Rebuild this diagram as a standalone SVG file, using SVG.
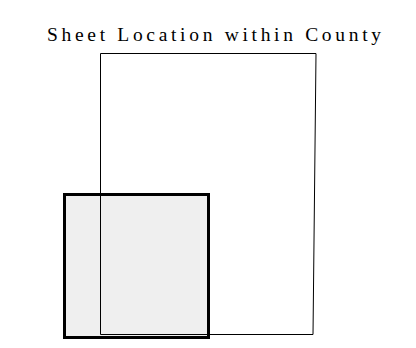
<svg xmlns="http://www.w3.org/2000/svg" width="416" height="348" viewBox="0 0 416 348">
<style>
.title{font-family:"Liberation Serif","Times New Roman",serif;font-size:19.5px;fill:#000}
.county{fill:none;stroke:#000;stroke-width:1}
.sheet{stroke:#000;stroke-width:3}
</style>
<rect width="416" height="348" fill="#fff"/>
<text class="title" x="47" y="40.5" textLength="334" lengthAdjust="spacing">Sheet Location within County</text>
<g id="sheet-fill"><rect x="64.5" y="194.5" width="144" height="143" fill="#efefef" stroke="none"/></g>
<g id="county"><path class="county" d="M100.5,53.5 L316,53.5 L313,334.5 L100.5,334.5 Z"/></g>
<g id="sheet"><rect class="sheet" x="64.5" y="194.5" width="144" height="143" fill="none"/></g>
</svg>
